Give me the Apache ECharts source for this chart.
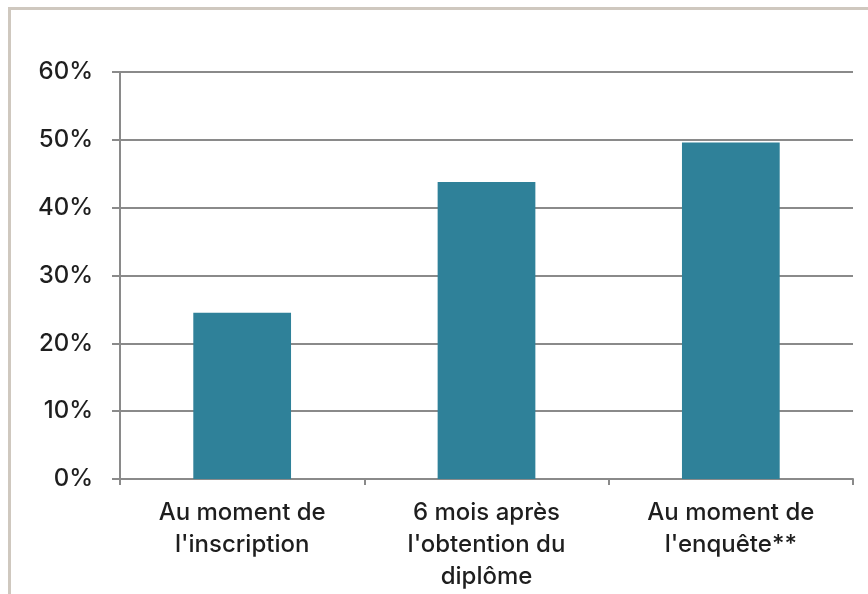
<!DOCTYPE html>
<html>
<head>
<meta charset="utf-8">
<script src="https://cdn.jsdelivr.net/npm/echarts@6/dist/echarts.min.js"></script>
<style>
  html, body { margin: 0; padding: 0; background: #fff; }
  #main { width: 868px; height: 594px; }
</style>
</head>
<body>
<div id="main"></div>
<script>
// catégories et valeurs
let categories = ['Au moment de\nl\'inscription', '6 mois après\nl\'obtention du\ndiplôme', 'Au moment de\nl\'enquête**'];
let values = [24.5, 43.8, 49.6];
let yTicks = [0, 10, 20, 30, 40, 50, 60];

let chartDom = document.getElementById('main');
let myChart = echarts.init(chartDom);
let option;

option = {
    animation: false,
    textStyle: { fontFamily: 'Inter', fontWeight: 500 },
    graphic: [{
        type: 'polyline',
        silent: true,
        shape: { points: [[9.5, 600], [9.5, 8.5], [890, 8.5]] },
        style: { stroke: '#cfc8bf', lineWidth: 3, fill: null }
    }],
    grid: {
        left: 120,
        right: 15,
        top: 72,
        bottom: 115
    },
    xAxis: {
        type: 'category',
        data: categories,
        axisLine: { lineStyle: { color: '#8a8a8a', width: 2 } },
        axisTick: { show: true, length: 6, lineStyle: { color: '#8a8a8a', width: 2 } },
        axisLabel: {
            color: '#1e1e1e',
            fontSize: 24,
            fontWeight: 500,
            lineHeight: 32,
            margin: 18,
            interval: 0
        }
    },
    yAxis: {
        type: 'value',
        min: yTicks[0],
        max: yTicks[yTicks.length - 1],
        interval: 10,
        axisLine: { show: true, lineStyle: { color: '#8a8a8a', width: 2 } },
        axisTick: { show: true, length: 8, lineStyle: { color: '#8a8a8a', width: 2 } },
        splitLine: { lineStyle: { color: '#8a8a8a', width: 2 } },
        axisLabel: {
            color: '#1e1e1e',
            fontSize: 24,
            fontWeight: 500,
            margin: 27,
            formatter: '{value}%'
        }
    },
    series: [{
        type: 'bar',
        data: values,
        barWidth: '40%',
        itemStyle: { color: '#2f8199' }
    }]
};

myChart.setOption(option, true);
window.addEventListener('resize', () => {
    myChart.resize();
});
</script>
</body>
</html>
